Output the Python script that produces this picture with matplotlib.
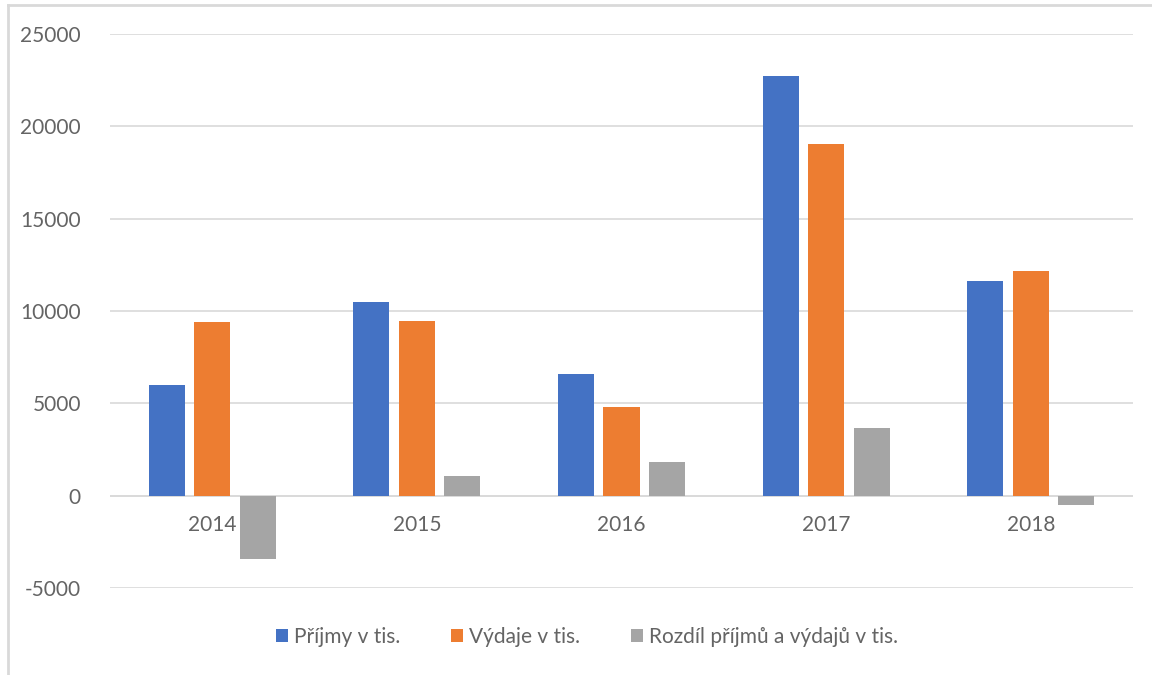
import numpy as np
import matplotlib
matplotlib.use('Agg')
import matplotlib.pyplot as plt
from matplotlib.lines import Line2D

plt.rcParams['font.family'] = ['Lato', 'DejaVu Sans']
plt.rcParams['axes.unicode_minus'] = False

years = ['2014', '2015', '2016', '2017', '2018']
prijmy = [6000, 10500, 6600, 22750, 11650]
vydaje = [9420, 9480, 4820, 19060, 12180]
rozdil = [-3420, 1080, 1840, 3690, -490]

labels = ['Příjmy v tis.', 'Výdaje v tis.', 'Rozdíl příjmů a výdajů v tis.']
colors = ['#4472C4', '#ED7D31', '#A5A5A5']
txt = '#646464'

fig = plt.figure(figsize=(11.52, 6.75), dpi=100)
ax = fig.add_axes([110/1152, 1-588/675, 1023/1152, 554/675])

x = np.arange(len(years))
w = 0.176
step = 0.222
for i, (vals, lab, c) in enumerate(zip([prijmy, vydaje, rozdil], labels, colors)):
    ax.bar(x + (i-1)*step, vals, w, color=c, label=lab, zorder=3)

ax.set_xlim(-0.5, len(years)-0.5)
ax.set_ylim(-5000, 25000)
ax.set_yticks(np.arange(-5000, 25001, 5000))
ax.yaxis.grid(True, color='#D9D9D9', lw=1.2, zorder=0)
ax.axhline(0, color='#D9D9D9', lw=1.2, zorder=1)
for s in ax.spines.values():
    s.set_visible(False)
ax.spines['bottom'].set_position(('data', 0))
ax.set_xticks(x)
ax.set_xticklabels(years)
ax.tick_params(axis='x', length=0, pad=14, labelsize=15, labelcolor=txt)
ax.tick_params(axis='y', length=0, pad=21, labelsize=15, labelcolor=txt)

fig.legend(loc='center', bbox_to_anchor=(587/1152, 1-637/675), ncol=3,
           frameon=False, fontsize=15, labelcolor=txt, handlelength=0.6,
           handleheight=0.6, handletextpad=0.3, columnspacing=2.4)

# chart area border (left and top only visible)
fig.add_artist(Line2D([8/1152, 8/1152], [0, 1-5/675], color='#D9D9D9', lw=2))
fig.add_artist(Line2D([8/1152, 1], [1-5/675, 1-5/675], color='#D9D9D9', lw=2))

fig.savefig('out.png', dpi=100)
